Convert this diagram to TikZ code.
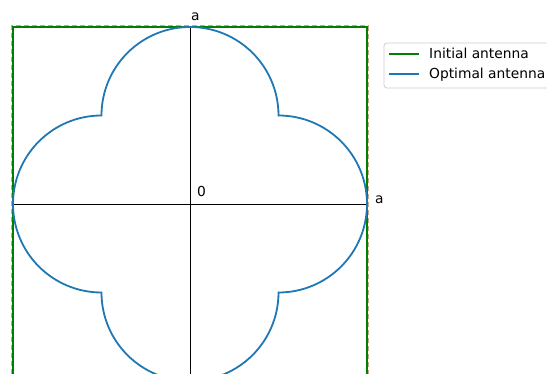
\documentclass[tikz,border=0pt]{standalone}
\usepackage{fontspec}
\setmainfont{DejaVu Sans}
\definecolor{initgreen}{RGB}{0,128,0}
\definecolor{optblue}{RGB}{31,119,180}
\definecolor{guidetan}{RGB}{200,170,130}
\usetikzlibrary{positioning}
\tikzset{
    plotfont/.style={font=\fontsize{13.8}{16}\selectfont},
    axisline/.style={draw=black, line width=0.8pt},
    initline/.style={draw=initgreen, line width=1.9pt},
    optline/.style={draw=optblue, line width=1.8pt},
    guideline/.style={draw=guidetan, dashed, dash pattern=on 5pt off 3pt, line width=1.4pt},
    legendbox/.style={draw=black!20, fill=white, rounded corners=3pt, line width=0.8pt},
    ticklabel/.style={plotfont, inner sep=0pt},
}
\begin{document}
\begin{tikzpicture}[x=1pt, y=1pt]
    \useasboundingbox (-190,-170) rectangle (357,204);
    \clip (-190,-170) rectangle (357,204);
    % initial square antenna
    \draw[guideline] (-178,-178) rectangle (178,178);
    \draw[initline] (-177,-177) rectangle (177,177);
    % axes through the centre
    \coordinate (west) at (-177,0);
    \coordinate (east) at (177,0);
    \coordinate (north) at (0,177);
    \coordinate (south) at (0,-177);
    \draw[axisline] (west) -- (east);
    \draw[axisline] (north) -- (south);
    % optimal antenna: four half discs on a square of side a/2
    \draw[optline] (west)
        arc[start angle=180, end angle=90, radius=88.5]
        arc[start angle=180, end angle=0, radius=88.5]
        arc[start angle=90, end angle=-90, radius=88.5]
        arc[start angle=0, end angle=-180, radius=88.5]
        arc[start angle=-90, end angle=-180, radius=88.5];
    % labels
    \node[ticklabel, anchor=base west] (toplabel) at (1,183) {a};
    \node[ticklabel, anchor=base west] (rightlabel) at (185,0) {a};
    \node[ticklabel, anchor=base west] (origin) at (7,7) {0};
    % legend
    \draw[legendbox] (194,161) rectangle (400,116);
    \node[ticklabel, anchor=base west] (initial) at (239,145) {Initial antenna};
    \node[ticklabel, anchor=base west] (optimal) at (239,125) {Optimal antenna};
    \coordinate (ginit) at (199,150);
    \coordinate (gopt) at (199,130);
    \draw[initline, line width=1.6pt] (ginit) -- ++(30,0);
    \draw[optline] (gopt) -- ++(30,0);
\end{tikzpicture}
\end{document}
